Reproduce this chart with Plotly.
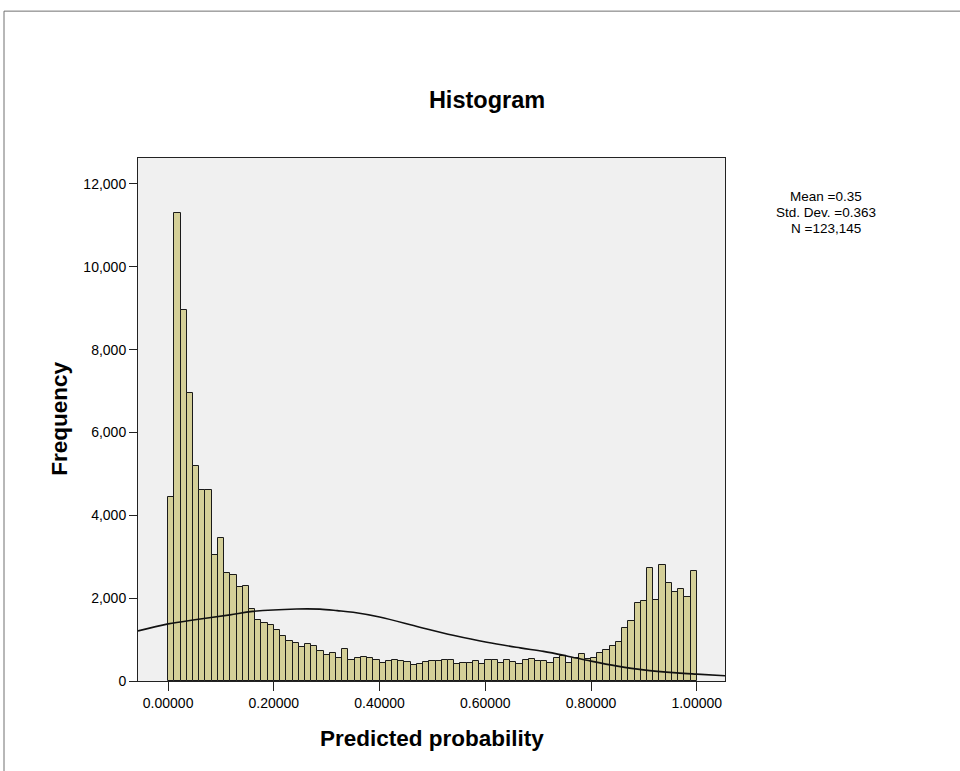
import plotly.graph_objects as go

# ---- data ----
n_bins = 85
bin_width = 1.0 / n_bins
frequencies = [
    4450, 11300, 8950, 6950, 5200, 4600, 4600, 3050, 3450, 2600,
    2560, 2260, 2290, 1740, 1480, 1400, 1350, 1230, 1075, 975,
    910, 825, 890, 840, 735, 620, 685, 560, 775, 500,
    560, 580, 560, 515, 440, 490, 515, 485, 470, 395,
    420, 450, 485, 485, 500, 515, 405, 430, 430, 485,
    420, 515, 515, 435, 500, 450, 410, 500, 530, 485,
    485, 435, 550, 615, 435, 550, 660, 530, 565, 670,
    740, 840, 950, 1275, 1450, 1880, 1930, 2730, 1960, 2800,
    2355, 2160, 2210, 2025, 2660,
]
bin_centers = [(i + 0.5) * bin_width for i in range(n_bins)]

curve_x = [-0.057, 0.0, 0.054, 0.117, 0.16, 0.243, 0.287, 0.32, 0.35, 0.40,
           0.476, 0.539, 0.603, 0.666, 0.71, 0.754, 0.80, 0.85, 0.899, 0.962,
           1.0, 1.054]
curve_y = [1210, 1380, 1484, 1597, 1680, 1738, 1735, 1700, 1660, 1545,
           1300, 1105, 935, 800, 715, 605, 480, 360, 268, 195,
           165, 128]

x_ticks = [0.0, 0.2, 0.4, 0.6, 0.8, 1.0]
y_ticks = [0, 2000, 4000, 6000, 8000, 10000, 12000]
stats_lines = ["Mean =0.35", "Std. Dev. =0.363", "N =123,145"]

FONT = "Liberation Sans, Arial, sans-serif"
W, H = 960, 771
L, R, T, B = 138, 725, 158, 681.5

fig = go.Figure()
fig.add_trace(go.Bar(
    x=bin_centers, y=frequencies, width=bin_width,
    marker=dict(color="#d4cf98", line=dict(color="#1a1a1a", width=1)),
    hoverinfo="skip", showlegend=False,
))
fig.add_trace(go.Scatter(
    x=curve_x, y=curve_y, mode="lines",
    line=dict(color="#111111", width=1.6, shape="spline", smoothing=1.0),
    hoverinfo="skip", showlegend=False,
))

fig.update_layout(
    width=W, height=H,
    margin=dict(l=L, r=W - R, t=T, b=H - B, pad=0),
    paper_bgcolor="white", plot_bgcolor="#f0f0f0",
    bargap=0,
    font=dict(family=FONT, color="black"),
    title=dict(text="<b>Histogram</b>", x=487 / W, y=1 - 100 / H,
               xref="container", yref="container",
               xanchor="center", yanchor="middle",
               font=dict(family=FONT, size=23.5, color="black")),
    xaxis=dict(range=[-0.057, 1.0535], tickvals=x_ticks, tickformat=".5f",
               showgrid=False, zeroline=False, showline=True, mirror=True,
               linecolor="#222222", linewidth=1, ticks="outside", ticklen=9,
               tickcolor="#222222", tickfont=dict(family=FONT, size=14)),
    yaxis=dict(range=[0, 12627], tickvals=y_ticks, tickformat=",",
               showgrid=False, zeroline=False, showline=True, mirror=True,
               linecolor="#222222", linewidth=1, ticks="outside", ticklen=8,
               tickcolor="#222222", tickfont=dict(family=FONT, size=14)),
)

# axis titles
fig.add_annotation(text="<b>Predicted probability</b>", xref="paper", yref="paper",
                   x=(432 - L) / (R - L), y=(B - 739) / (B - T),
                   xanchor="center", yanchor="middle", showarrow=False,
                   font=dict(family=FONT, size=22.5, color="black"))
fig.add_annotation(text="<b>Frequency</b>", xref="paper", yref="paper",
                   x=(60 - L) / (R - L), y=(B - 419) / (B - T), textangle=-90,
                   xanchor="center", yanchor="middle", showarrow=False,
                   font=dict(family=FONT, size=22.5, color="black"))

# statistics box text
for i, s in enumerate(stats_lines):
    fig.add_annotation(text=s, xref="paper", yref="paper",
                       x=(826 - L) / (R - L), y=(B - (197 + 16 * i)) / (B - T),
                       xanchor="center", yanchor="middle", showarrow=False,
                       font=dict(family=FONT, size=13.5, color="black"))

# outer frame
fig.add_shape(type="rect", xref="paper", yref="paper",
              x0=(4 - L) / (R - L), x1=(975 - L) / (R - L),
              y0=(B - 790) / (B - T), y1=(B - 11) / (B - T),
              line=dict(color="#707070", width=1), fillcolor="rgba(0,0,0,0)",
              layer="above")

fig.write_html("out.html")
